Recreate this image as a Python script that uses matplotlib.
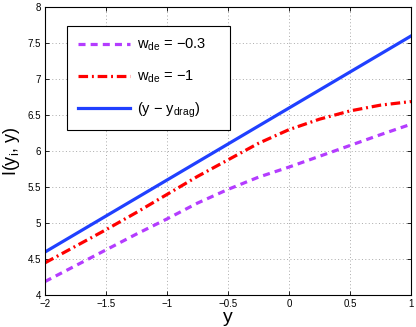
import numpy as np
import matplotlib
matplotlib.use('Agg')
import matplotlib.pyplot as plt

plt.rcParams['font.family'] = ['Liberation Sans', 'DejaVu Sans']
plt.rcParams['mathtext.default'] = 'regular'

# values
y_vals = [-2.0, -1.75, -1.5, -1.25, -1.0, -0.75, -0.5, -0.25, 0.0, 0.25, 0.5, 0.75, 1.0]
I_w03 = [4.19, 4.41, 4.63, 4.85, 5.06, 5.28, 5.47, 5.64, 5.78, 5.93, 6.08, 6.23, 6.375]
I_w1 = [4.45, 4.68, 4.91, 5.15, 5.40, 5.65, 5.88, 6.11, 6.30, 6.445, 6.56, 6.64, 6.69]
I_drag = [4.60, 4.85, 5.10, 5.35, 5.60, 5.85, 6.10, 6.35, 6.60, 6.85, 7.10, 7.35, 7.60]

# trailing spaces keep the MATLAB-like empty room on the right of the legend box
labels = [r'$w_{de}$ = $-$0.3    ', r'$w_{de}$ = $-$1', r'(y $-$ $y_{drag}$)']

fig = plt.figure(figsize=(4.16, 3.27), dpi=100)
ax = fig.add_axes([0.108, 0.097, 0.880, 0.881])

ax.plot(y_vals, I_w03, color='#b43cff', ls=(0, (2.2, 1.6)), lw=2.3, label=labels[0])
ax.plot(y_vals, I_w1, color='#ff0000', ls=(0, (3, 1.2, 0.6, 1.2)), lw=2.3, label=labels[1])
ax.plot(y_vals, I_drag, color='#2040ff', ls='-', lw=2.3, label=labels[2])

ax.set_xlim(-2, 1)
ax.set_ylim(4, 8)
ax.set_xticks([-2, -1.5, -1, -0.5, 0, 0.5, 1])
ax.set_xticklabels(['\u22122', '\u22121.5', '\u22121', '\u22120.5', '0', '0.5', '1'])
ax.set_yticks([4, 4.5, 5, 5.5, 6, 6.5, 7, 7.5, 8])
ax.set_yticklabels(['4', '4.5', '5', '5.5', '6', '6.5', '7', '7.5', '8'])
ax.tick_params(direction='in', length=3, width=0.6, labelsize=7, top=True, right=True, pad=3)
ax.grid(True, ls=(0, (1, 2.5)), color='#aaaaaa', lw=0.7)
for s in ax.spines.values():
    s.set_linewidth(0.8)

ax.set_xlabel('y', fontsize=14, labelpad=0)
ax.set_ylabel(r'I($y_i$, y)', fontsize=13, labelpad=4)

leg = ax.legend(loc='upper left', bbox_to_anchor=(0.061, 0.933), fontsize=10.5,
                handlelength=3.6, labelspacing=1.05, borderpad=0.72, handletextpad=0.45,
                fancybox=False, framealpha=1, edgecolor='black', borderaxespad=0)
leg.get_frame().set_linewidth(0.8)

fig.savefig('out.png', dpi=100)
